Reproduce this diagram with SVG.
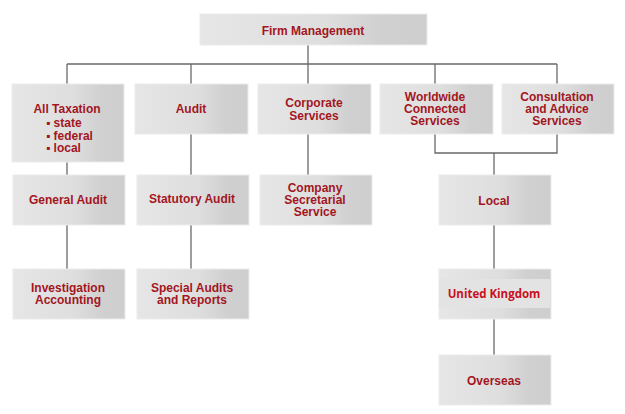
<svg xmlns="http://www.w3.org/2000/svg" width="625" height="414" viewBox="0 0 625 414">
<defs>
<linearGradient id="g" x1="0" y1="0" x2="1" y2="0">
<stop offset="0" stop-color="#e6e6e6"/>
<stop offset="0.55" stop-color="#dedede"/>
<stop offset="0.8" stop-color="#d0d0d0"/>
<stop offset="1" stop-color="#cecece"/>
</linearGradient>
<style>
.box{fill:url(#g);stroke:#ececec;stroke-width:1}
.t{font-family:"Liberation Sans",Arial,sans-serif;font-weight:bold;font-size:12px;fill:#a3161f;text-anchor:middle}
.tl{font-family:"Liberation Sans",Arial,sans-serif;font-weight:bold;font-size:12px;fill:#a3161f}
.uk{font-family:"Open Sans","Noto Sans",sans-serif;font-weight:bold;font-size:11.5px;fill:#c8101c;text-anchor:middle}
.c{fill:none;stroke:#6a6a6a;stroke-width:1.3}
</style>
</defs>
<rect width="625" height="414" fill="#ffffff"/>
<g id="connectors">
<path class="c" d="M308 45V84M67 64H557M67 64V84M191 64V84M435 64V84M557 64V84"/>
<path class="c" d="M67 162V175M191 134V175M308 134V175"/>
<path class="c" d="M67 225V269M191 225V269"/>
<path class="c" d="M435 134V153H557V134M494 153V175M494 225V269M494 319V355"/>
</g>
<g id="firm-management"><rect class="box" x="200" y="14" width="227" height="31"/><text class="t" x="313" y="35">Firm Management</text></g>
<g id="all-taxation"><rect class="box" x="12" y="84" width="112" height="78"/>
<text class="t" x="67" y="113">All Taxation</text>
<text class="tl" x="46" y="127">▪ state</text>
<text class="tl" x="46" y="140">▪ federal</text>
<text class="tl" x="46" y="152">▪ local</text></g>
<g id="audit"><rect class="box" x="135" y="84" width="113" height="50"/><text class="t" x="191" y="113">Audit</text></g>
<g id="corporate-services"><rect class="box" x="258" y="84" width="113" height="50"/><text class="t" x="314" y="107">Corporate</text><text class="t" x="314" y="120">Services</text></g>
<g id="worldwide"><rect class="box" x="380" y="84" width="113" height="50"/><text class="t" x="435" y="101">Worldwide</text><text class="t" x="435" y="113">Connected</text><text class="t" x="435" y="125">Services</text></g>
<g id="consultation"><rect class="box" x="502" y="84" width="112" height="50"/><text class="t" x="557" y="101">Consultation</text><text class="t" x="557" y="113">and Advice</text><text class="t" x="557" y="125">Services</text></g>
<g id="general-audit"><rect class="box" x="13" y="175" width="112" height="50"/><text class="t" x="68" y="204">General Audit</text></g>
<g id="statutory-audit"><rect class="box" x="137" y="175" width="112" height="50"/><text class="t" x="192" y="203">Statutory Audit</text></g>
<g id="company-secretarial"><rect class="box" x="260" y="175" width="112" height="50"/><text class="t" x="315" y="192">Company</text><text class="t" x="315" y="204">Secretarial</text><text class="t" x="315" y="216">Service</text></g>
<g id="local"><rect class="box" x="439" y="175" width="112" height="50"/><text class="t" x="494" y="205">Local</text></g>
<g id="investigation"><rect class="box" x="13" y="269" width="112" height="50"/><text class="t" x="68" y="292">Investigation</text><text class="t" x="68" y="304">Accounting</text></g>
<g id="special-audits"><rect class="box" x="137" y="269" width="112" height="50"/><text class="t" x="192" y="292">Special Audits</text><text class="t" x="192" y="304">and Reports</text></g>
<g id="united-kingdom"><rect class="box" x="439" y="269" width="112" height="50"/><rect x="439" y="279" width="111" height="29" fill="#e3e3e3"/><text class="uk" x="494" y="298">United Kingdom</text></g>
<g id="overseas"><rect class="box" x="439" y="355" width="112" height="50"/><text class="t" x="494" y="385">Overseas</text></g>
</svg>
